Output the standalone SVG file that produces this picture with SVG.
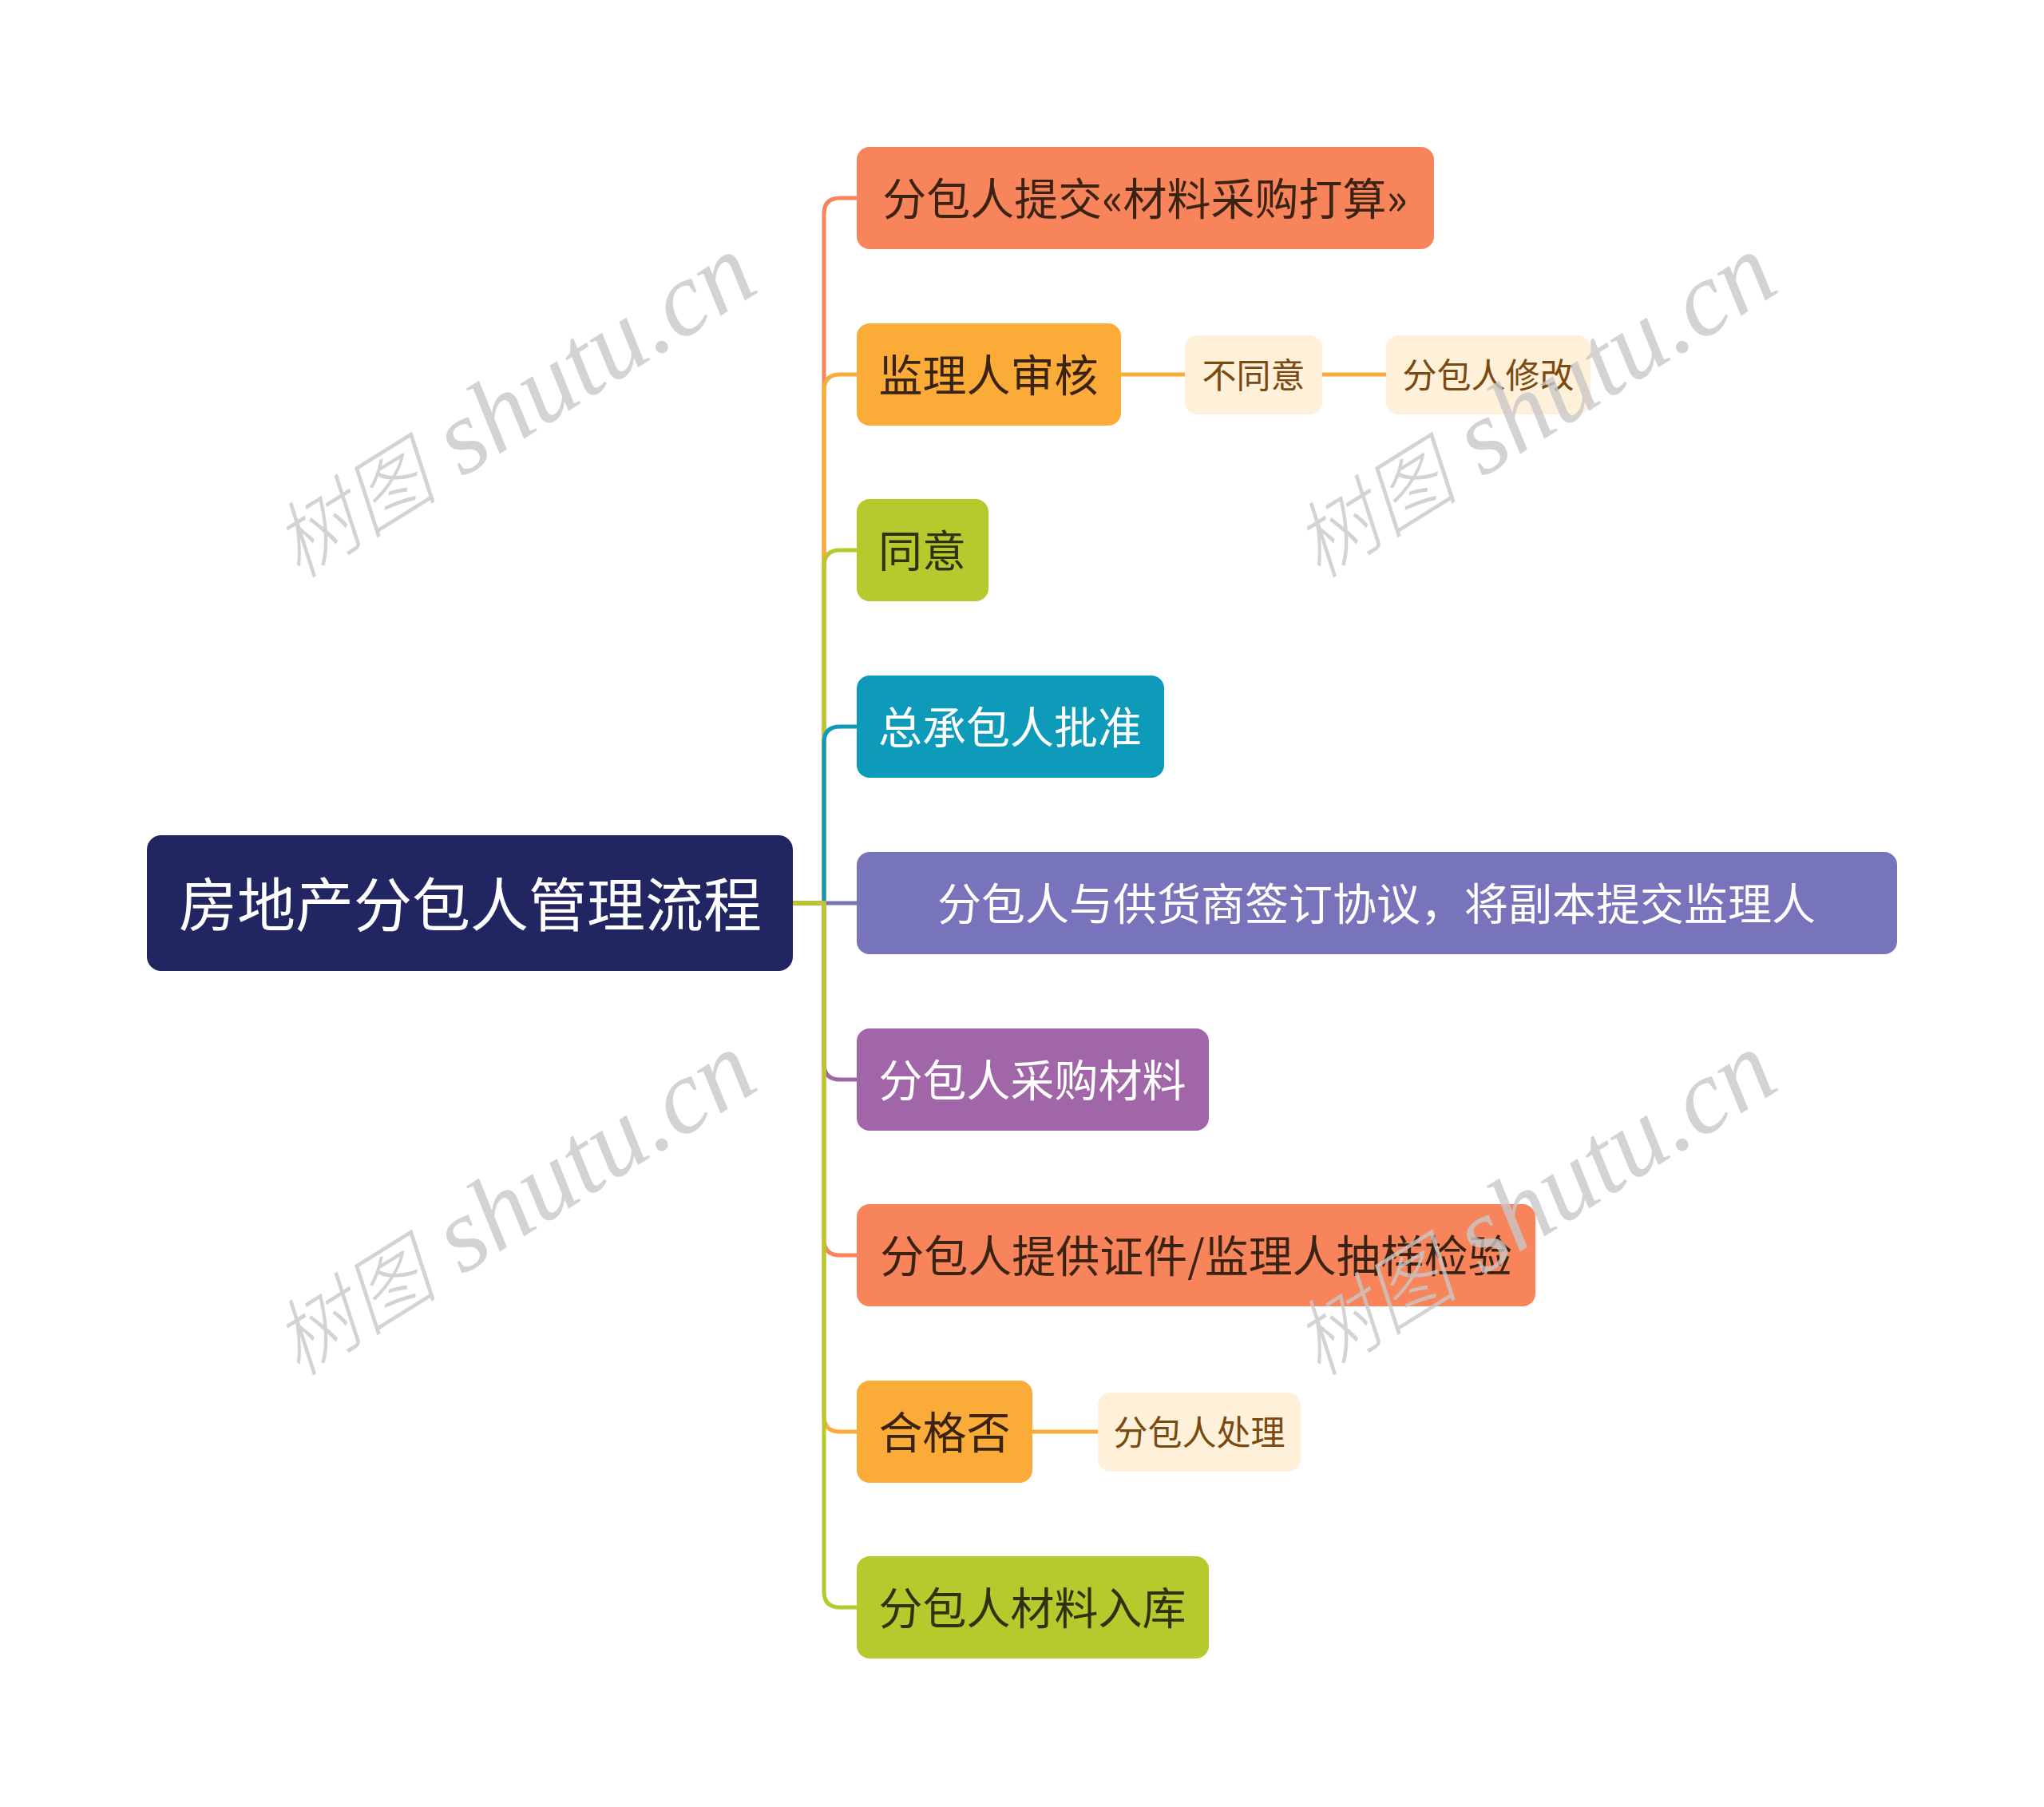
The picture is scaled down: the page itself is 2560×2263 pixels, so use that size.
<svg xmlns="http://www.w3.org/2000/svg" width="2560" height="2263" viewBox="0 0 2560 2263">
<style>
.t{font-family:"Noto Sans CJK SC","Noto Sans",sans-serif;text-anchor:middle;dominant-baseline:central}
.c{font-size:55px}
.s{font-size:43px;fill:#7A4A10}
.root{font-size:73px;fill:#FFFFFF}
.w{fill:#FFFFFF}
.d1{fill:#3B2314}
.d2{fill:#2E3210}
.ln{fill:none;stroke-width:5;stroke-linecap:round}
.wm{font-family:"Liberation Serif","Noto Sans CJK SC",serif;font-style:italic;font-size:132px;fill:#C8C8C8;fill-opacity:0.8}
.wc{font-family:"Noto Sans CJK SC",serif;font-size:104px;font-weight:300}
</style>
<rect width="2560" height="2263" fill="#FFFFFF"/>
<g id="connectors">
<path class="ln" stroke="#F7845A" d="M993 1131H1032V268Q1032 248 1052 248H1073"/>
<path class="ln" stroke="#FBAB38" d="M993 1131H1032V489Q1032 469 1052 469H1073"/>
<path class="ln" stroke="#B6CA2D" d="M993 1131H1032V709Q1032 689 1052 689H1073"/>
<path class="ln" stroke="#0E9AB9" d="M993 1131H1032V930Q1032 910 1052 910H1073"/>
<path class="ln" stroke="#7774BB" d="M993 1131H1073"/>
<path class="ln" stroke="#A066A8" d="M993 1131H1032V1332Q1032 1352 1052 1352H1073"/>
<path class="ln" stroke="#F7845A" d="M993 1131H1032V1552Q1032 1572 1052 1572H1073"/>
<path class="ln" stroke="#FBAB38" d="M993 1131H1032V1773Q1032 1793 1052 1793H1073"/>
<path class="ln" stroke="#B6CA2D" d="M993 1131H1032V1993Q1032 2013 1052 2013H1073"/>
<path class="ln" stroke="#FBAB38" d="M1404 469H1484M1656 469H1736M1293 1793H1375"/>
</g>
<g id="root"><rect x="184" y="1046" width="809" height="170" rx="18" fill="#212663"/><text class="t root" x="589" y="1128">房地产分包人管理流程</text></g>
<g id="n1"><rect x="1073" y="184" width="723" height="128" rx="16" fill="#F7845A"/><text class="t c d1" x="1434" y="245">分包人提交«材料采购打算»</text></g>
<g id="n2"><rect x="1073" y="405" width="331" height="128" rx="16" fill="#FBAB38"/><text class="t c d1" x="1238" y="466">监理人审核</text></g>
<g id="n2a"><rect x="1484" y="420" width="172" height="99" rx="16" fill="#FEF0D9"/><text class="t s" x="1570" y="467">不同意</text></g>
<g id="n2b"><rect x="1736" y="420" width="256" height="99" rx="16" fill="#FEF0D9"/><text class="t s" x="1864" y="467">分包人修改</text></g>
<g id="n3"><rect x="1073" y="625" width="165" height="128" rx="16" fill="#B6CA2D"/><text class="t c d2" x="1155" y="686">同意</text></g>
<g id="n4"><rect x="1073" y="846" width="385" height="128" rx="16" fill="#0E9AB9"/><text class="t c w" x="1265" y="907">总承包人批准</text></g>
<g id="n5"><rect x="1073" y="1067" width="1303" height="128" rx="16" fill="#7774BB"/><text class="t c w" x="1724" y="1128">分包人与供货商签订协议，将副本提交监理人</text></g>
<g id="n6"><rect x="1073" y="1288" width="441" height="128" rx="16" fill="#A066A8"/><text class="t c w" x="1293" y="1349">分包人采购材料</text></g>
<g id="n7"><rect x="1073" y="1508" width="850" height="128" rx="16" fill="#F7845A"/><text class="t c d1" x="1498" y="1569">分包人提供证件/监理人抽样检验</text></g>
<g id="n8"><rect x="1073" y="1729" width="220" height="128" rx="16" fill="#FBAB38"/><text class="t c d1" x="1183" y="1790">合格否</text></g>
<g id="n8a"><rect x="1375" y="1744" width="254" height="99" rx="16" fill="#FEF0D9"/><text class="t s" x="1502" y="1791">分包人处理</text></g>
<g id="n9"><rect x="1073" y="1949" width="441" height="128" rx="16" fill="#B6CA2D"/><text class="t c d2" x="1293" y="2010">分包人材料入库</text></g>
<g id="watermarks">
<text class="wm" text-anchor="middle" transform="translate(645 514) rotate(-32)" y="36"><tspan class="wc">树图</tspan> shutu.cn</text>
<text class="wm" text-anchor="middle" transform="translate(1923 514) rotate(-32)" y="36"><tspan class="wc">树图</tspan> shutu.cn</text>
<text class="wm" text-anchor="middle" transform="translate(645 1513) rotate(-32)" y="36"><tspan class="wc">树图</tspan> shutu.cn</text>
<text class="wm" text-anchor="middle" transform="translate(1923 1513) rotate(-32)" y="36"><tspan class="wc">树图</tspan> shutu.cn</text>
</g>
</svg>
